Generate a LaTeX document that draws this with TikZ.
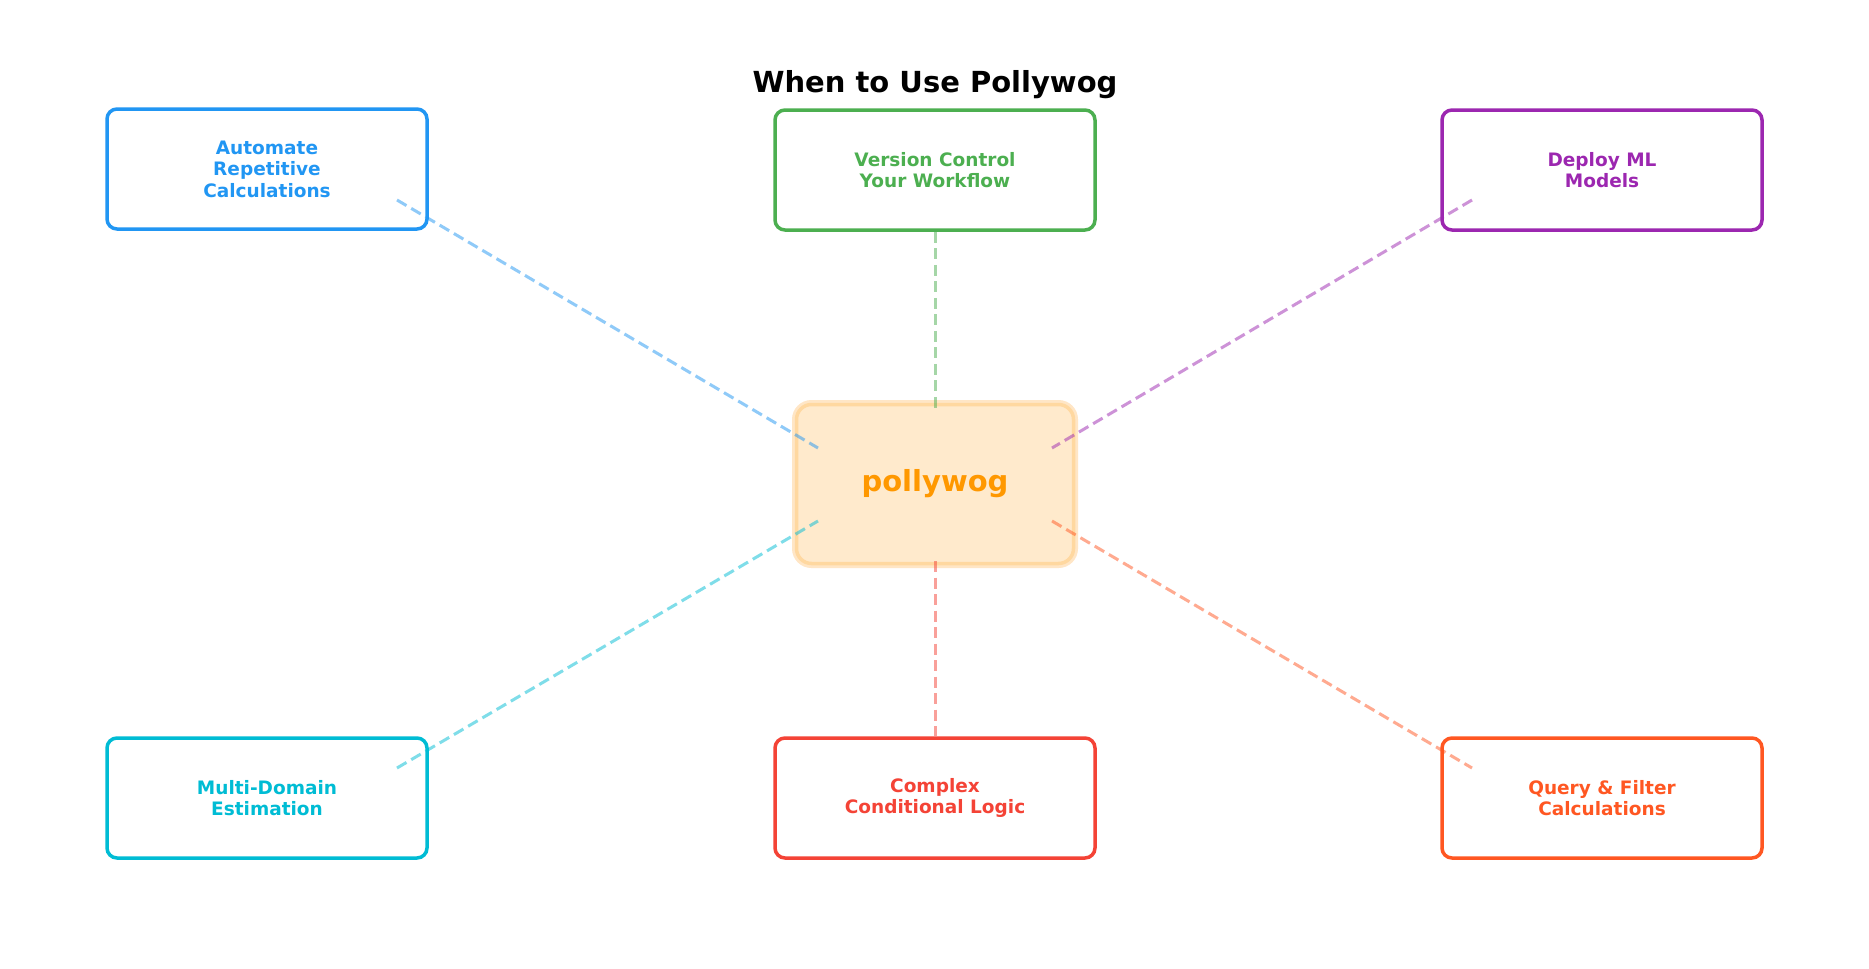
\documentclass[tikz,border=0pt]{standalone}
\usepackage{fontspec}
\setmainfont{DejaVu Sans}
\usetikzlibrary{calc}
\definecolor{cblue}{HTML}{2196F3}
\definecolor{cgreen}{HTML}{4CAF50}
\definecolor{cpurple}{HTML}{9C27B0}
\definecolor{ccyan}{HTML}{00BCD4}
\definecolor{cred}{HTML}{F44336}
\definecolor{cdorange}{HTML}{FF5722}
\definecolor{corange}{HTML}{FF9800}
\definecolor{cfill}{HTML}{FFEACC}
\definecolor{cborder}{HTML}{FFD8A0}
\definecolor{chalo}{HTML}{FFE6C6}
\tikzset{
  usebox/.style={draw=#1, text=#1, line width=3.5pt, rounded corners=10pt,
    minimum width=320pt, minimum height=120pt, align=center, fill=white,
    font=\fontsize{18.5}{21.5}\selectfont\bfseries, inner sep=0pt},
  link/.style={draw=#1, opacity=0.5, line width=3pt, dash pattern=on 11pt off 5.5pt},
  centerbox/.style={fill=cfill, draw=cborder, line width=3.5pt, rounded corners=15pt,
    preaction={draw=chalo, line width=9pt},
    minimum width=277pt, minimum height=159pt, text=corange, outer sep=0pt,
    font=\fontsize{29}{34}\selectfont\bfseries},
  titletext/.style={font=\fontsize{29}{35}\selectfont\bfseries, text=black}
}
\begin{document}
\begin{tikzpicture}[x=1pt,y=-1pt]
\useasboundingbox (0,0) rectangle (1869,969);
\fill[white] (0,0) rectangle (1869,969);
\node[titletext, anchor=base] (title) at (935,92) {When to Use Pollywog};

\node[usebox=cblue] (tl) at (267,169) {Automate\\Repetitive\\Calculations};
\node[usebox=cgreen] (tm) at (935,170) {Version Control\\Your Workflow};
\node[usebox=cpurple] (tr) at (1602,170) {Deploy ML\\Models};
\node[usebox=ccyan] (bl) at (267,798) {Multi-Domain\\Estimation};
\node[usebox=cred] (bm) at (935,798) {Complex\\Conditional Logic};
\node[usebox=cdorange] (br) at (1602,798) {Query \& Filter\\Calculations};

\node[centerbox] (c) at (935,484) {\raisebox{-2.5pt}{pollywog}};

\coordinate (tlA) at ($(tl.center)+(130,31)$);
\coordinate (tlB) at ($(c.center)+(-117,-36)$);
\coordinate (trA) at ($(tr.center)+(-130,30)$);
\coordinate (trB) at ($(c.center)+(117,-36)$);
\coordinate (blA) at ($(bl.center)+(130,-30)$);
\coordinate (blB) at ($(c.center)+(-117,37)$);
\coordinate (brA) at ($(br.center)+(-130,-30)$);
\coordinate (brB) at ($(c.center)+(117,37)$);
\coordinate (tmB) at ($(c.center)+(0,-75)$);
\coordinate (bmB) at ($(c.center)+(0,77)$);

\draw[link=cblue] (tlA) -- (tlB);
\draw[link=cgreen] (tm.south) -- (tmB);
\draw[link=cpurple] (trA) -- (trB);
\draw[link=ccyan] (blA) -- (blB);
\draw[link=cred] (bmB) -- (bm.north);
\draw[link=cdorange] (brB) -- (brA);
\end{tikzpicture}
\end{document}
